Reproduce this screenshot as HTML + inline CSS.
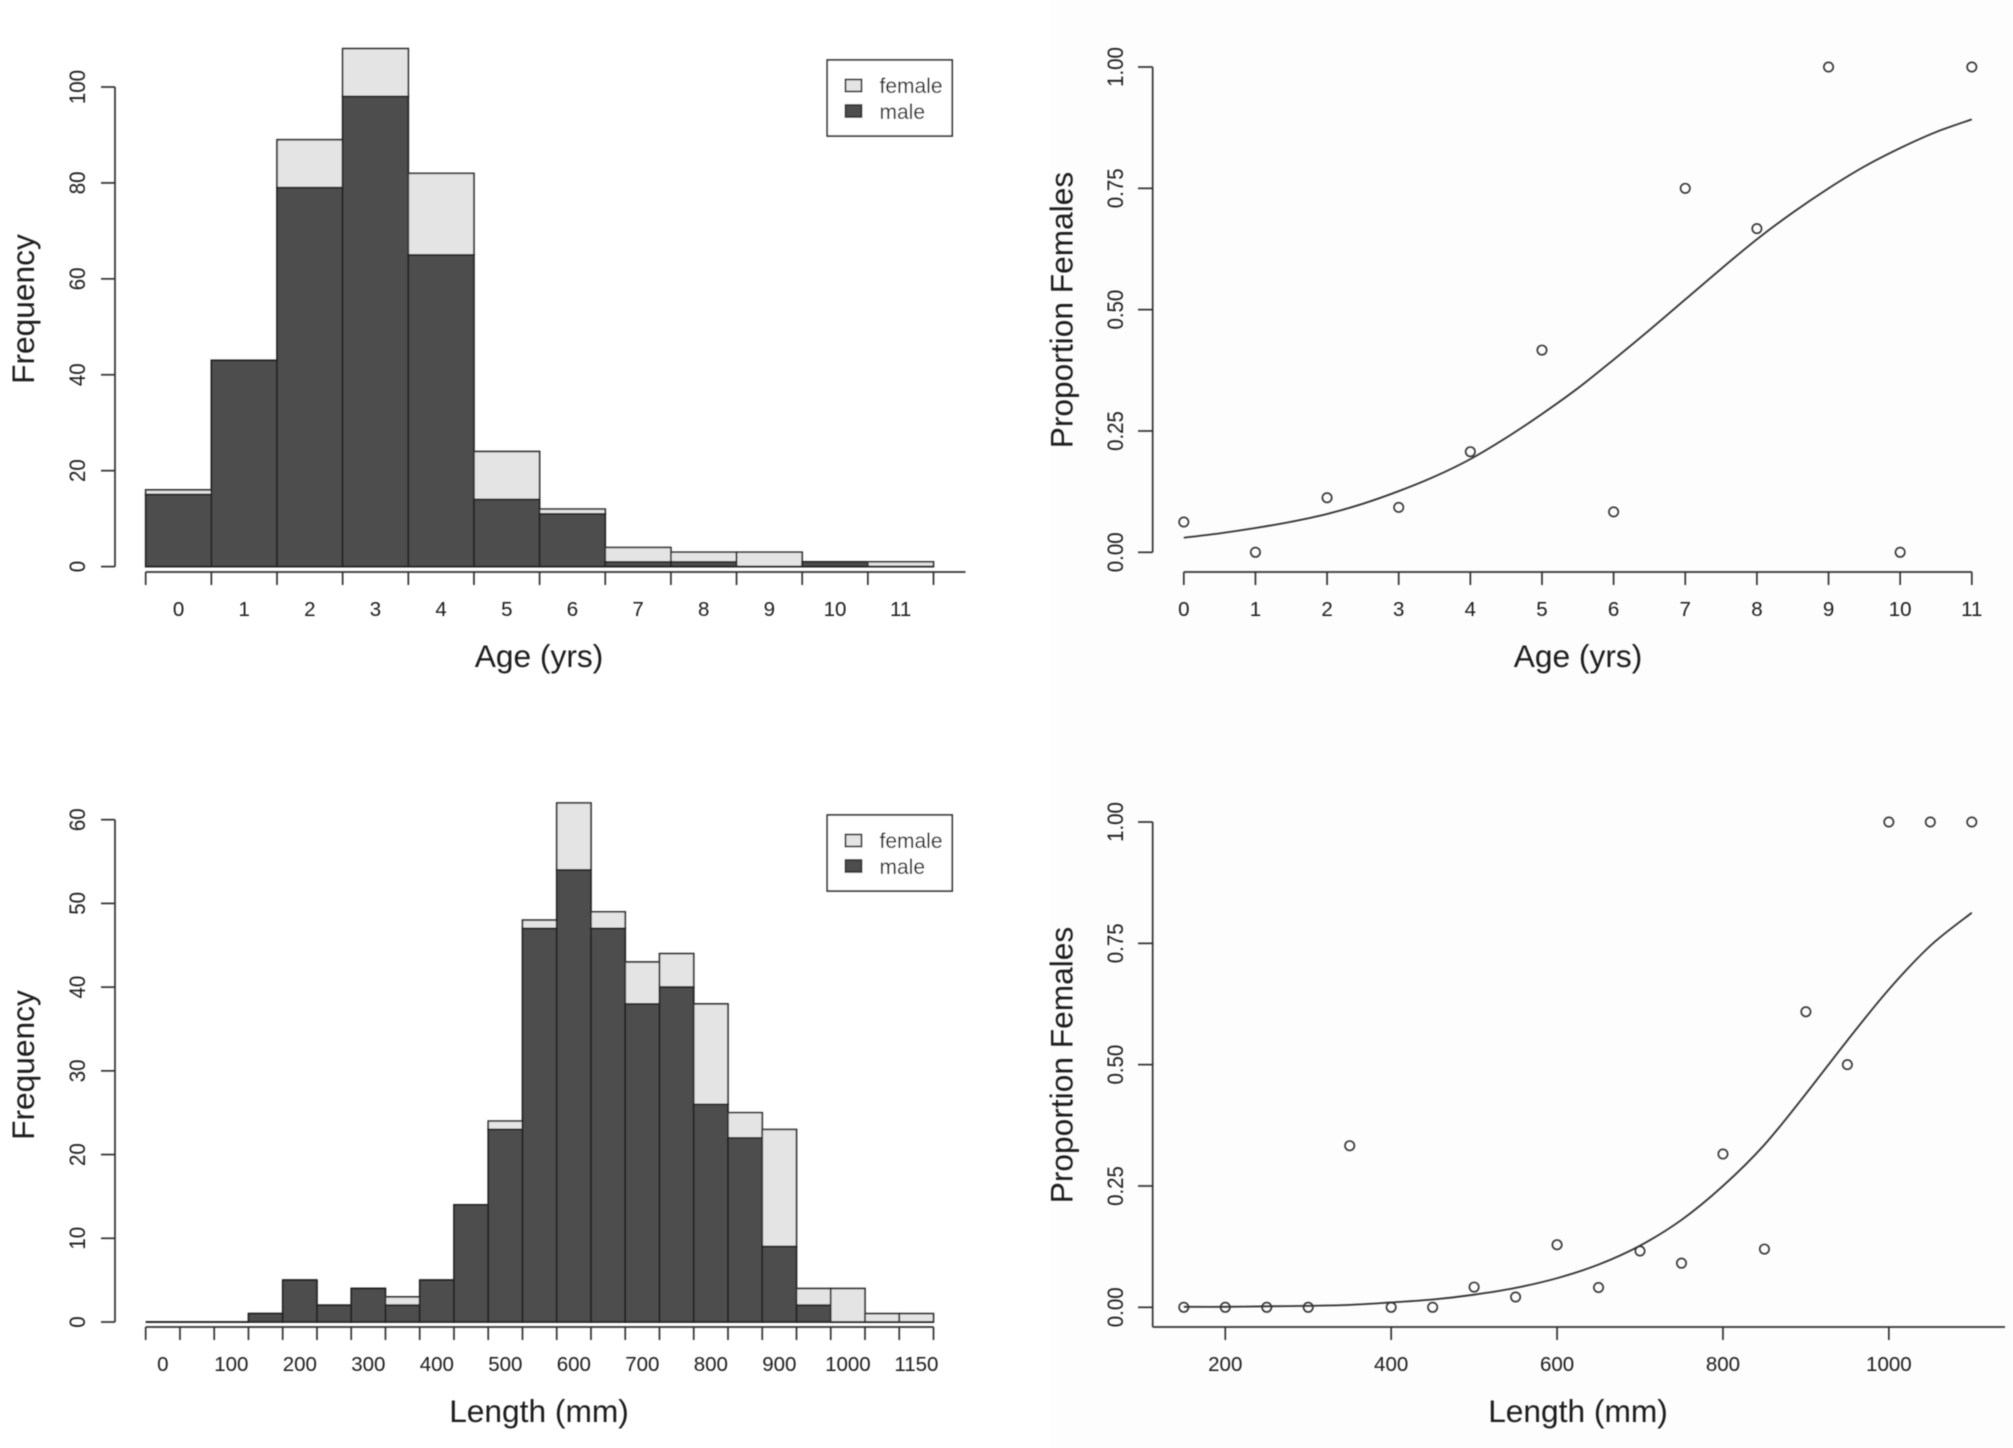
<!DOCTYPE html>
<html lang="en">
<head>
<meta charset="utf-8">
<title>Age and length frequency and proportion of females</title>
<style>
  html, body { margin: 0; padding: 0; background: #fff; }
  svg { display: block; font-family: "Liberation Sans", Arial, sans-serif; }
</style>
</head>
<body>
<svg id="figure" xmlns="http://www.w3.org/2000/svg" width="2013" height="1448" viewBox="0 0 2013 1448">
  <defs>
    <filter id="soft" x="0" y="0" width="2013" height="1448" filterUnits="userSpaceOnUse">
      <feGaussianBlur stdDeviation="0.55"/>
    </filter>
  </defs>
  <rect x="0" y="0" width="2013" height="1448" fill="#ffffff"/>
  <rect x="1050" y="0" width="963" height="1448" fill="#fdfdfd"/>
  <g id="plots" filter="url(#soft)"></g>
</svg>
<script>
// ---- Age frequency (top left)
const ageBinLabels = ["0","1","2","3","4","5","6","7","8","9","10","11"];
const ageMale   = [15,43,79,98,65,14,11,1,1,0,1,0];
const ageFemale = [1,0,10,10,17,10,1,3,2,3,0,1];
const ageFreqTicks = [0,20,40,60,80,100];

// ---- Length frequency (bottom left)
const lengthBinLabels = ["0","100","200","300","400","500","600","700","800","900","1000","1150"];
const lengthMale   = [0,0,0,1,5,2,4,2,5,14,23,47,54,47,38,40,26,22,9,2,0,0,0];
const lengthFemale = [0,0,0,0,0,0,0,1,0,0,1,1,8,2,5,4,12,3,14,2,4,1,1];
const lengthFreqTicks = [0,10,20,30,40,50,60];

// ---- Proportion females by age (top right)
const agePropX = [0,1,2,3,4,5,6,7,8,9,10,11];
const agePropY = [0.0625,0,0.1124,0.0926,0.2073,0.4167,0.0833,0.75,0.667,1,0,1];
const ageCurveX = [0,0.5,1,1.5,2,2.5,3,3.5,4,4.5,5,5.5,6,6.5,7,7.5,8,8.5,9,9.5,10,10.5,11];
const ageCurveY = [0.030,0.039,0.050,0.063,0.079,0.100,0.126,0.156,0.192,0.236,0.285,0.338,0.397,0.458,0.521,0.584,0.645,0.700,0.750,0.795,0.833,0.866,0.892];
const ageXTicks = [0,1,2,3,4,5,6,7,8,9,10,11];

// ---- Proportion females by length (bottom right)
const lengthPropX = [150,200,250,300,350,400,450,500,550,600,650,700,750,800,850,900,950,1000,1050,1100];
const lengthPropY = [0,0,0,0,0.333,0,0,0.0417,0.0213,0.129,0.0408,0.116,0.0909,0.3158,0.12,0.609,0.5,1,1,1];
const lengthCurveX = [150,200,250,300,350,400,450,500,550,600,650,700,750,800,850,900,950,1000,1050,1100];
const lengthCurveY = [0.001,0.001,0.002,0.003,0.005,0.010,0.016,0.026,0.040,0.060,0.088,0.127,0.180,0.250,0.335,0.440,0.550,0.655,0.745,0.813];
const lengthXTicks = [200,400,600,800,1000];

const propTicks = [0,0.25,0.5,0.75,1];

const SVG_NS = "http://www.w3.org/2000/svg";
const root = document.getElementById("plots");
const INK = "#303030";
const TEXT = "#1c1c1c";
const TITLE_SIZE = 31.7;

function linear(d0, d1, r0, r1) {
  return function (v) { return r0 + (v - d0) * (r1 - r0) / (d1 - d0); };
}
function make(tag, attrs, parent, text) {
  const node = document.createElementNS(SVG_NS, tag);
  for (const k in attrs) node.setAttribute(k, attrs[k]);
  if (text !== undefined) node.textContent = text;
  parent.appendChild(node);
  return node;
}
function line(x1, y1, x2, y2, parent) {
  return make("line", { x1: x1, y1: y1, x2: x2, y2: y2, stroke: INK, "stroke-width": 1.7 }, parent);
}
function hText(str, x, y, size, parent) {
  return make("text", { x: x, y: y, "font-size": size, fill: TEXT, "text-anchor": "middle" }, parent, str);
}
function vText(str, x, y, size, squeeze, parent) {
  return make("text", { transform: "translate(" + x + " " + y + ") rotate(-90) scale(" + squeeze + " 1)", "font-size": size, fill: TEXT, "text-anchor": "middle" }, parent, str);
}
function barPath(x0, x1, yTop, yBottom) {
  return "M" + x0 + " " + yBottom + "V" + yTop + "H" + x1 + "V" + yBottom + "Z";
}

function drawYAxis(g, ticks, fmt, y, axisX, tickX, labelX, axisBottom) {
  const axis = line(axisX, axisBottom, axisX, y(ticks[ticks.length - 1]), g);
  
  
  ticks.forEach(function (t) {
    const tick = line(tickX, y(t), axisX, y(t), g);
    
    
    const label = vText(fmt(t), labelX, y(t), 22, 0.93, g);
    
    
  });
}

function drawHistogram(cfg) {
  const g = make("g", {}, root);
  
  
  const n = cfg.male.length;
  const x = linear(0, n, 145.7, 933.5);
  const y = linear(0, cfg.unitValue, cfg.y0, cfg.yUnit);

  cfg.male.forEach(function (m, i) {
    const f = cfg.female[i];
    const femaleBar = make("path", { d: barPath(x(i), x(i + 1), y(m + f), y(m)), fill: "#e4e4e4", stroke: INK, "stroke-width": 1.7 }, g);
    
    
    const maleBar = make("path", { d: barPath(x(i), x(i + 1), y(m), y(0)), fill: "#4d4d4d", stroke: "#242424", "stroke-width": 1.7 }, g);
    
    
  });

  drawYAxis(g, cfg.yTicks, String, y, 115, 101, 85, y(cfg.yTicks[0]));

  const ax = line(x(0), cfg.axisY, cfg.axisEnd, cfg.axisY, g);
  
  
  for (let i = 0; i <= n; i++) {
    const tick = line(x(i), cfg.axisY, x(i), cfg.axisY + 13, g);
    
    
  }
  cfg.labels.forEach(function (str, i) {
    const label = hText(str, x(i * cfg.labelStep + 0.5), cfg.axisY + 44, 20.5, g);
    
    
  });

  const yTitle = vText("Frequency", 34, cfg.yTitleY, TITLE_SIZE, 1, g);
  
  
  const xTitle = hText(cfg.xTitle, 539, cfg.xTitleY, TITLE_SIZE, g);
  
  

  const lg = make("g", {}, g);
  
  
  const box = make("rect", { x: 827.2, y: cfg.legendY, width: 125, height: 76, fill: "#ffffff", stroke: INK, "stroke-width": 1.7 }, lg);
  
  
  const s1 = make("rect", { x: 845.5, y: cfg.legendY + 19.5, width: 16, height: 12, fill: "#e4e4e4", stroke: INK, "stroke-width": 1.7 }, lg);
  
  
  const s2 = make("rect", { x: 845.5, y: cfg.legendY + 45, width: 16, height: 12, fill: "#4d4d4d", stroke: INK, "stroke-width": 1.7 }, lg);
  
  
  const t1 = make("text", { x: 879.5, y: cfg.legendY + 33, "font-size": 21, fill: TEXT }, lg, "female");
  
  
  const t2 = make("text", { x: 879.5, y: cfg.legendY + 59, "font-size": 21, fill: TEXT }, lg, "male");
  
  
}

function smoothPath(px, py) {
  let d = "M" + px[0].toFixed(2) + " " + py[0].toFixed(2);
  for (let i = 0; i < px.length - 1; i++) {
    const a = Math.max(i - 1, 0), b = i + 1, c = Math.min(i + 2, px.length - 1);
    const c1x = px[i] + (px[b] - px[a]) / 6, c1y = py[i] + (py[b] - py[a]) / 6;
    const c2x = px[b] - (px[c] - px[i]) / 6, c2y = py[b] - (py[c] - py[i]) / 6;
    d += "C" + c1x.toFixed(2) + " " + c1y.toFixed(2) + " " + c2x.toFixed(2) + " " + c2y.toFixed(2) + " " + px[b].toFixed(2) + " " + py[b].toFixed(2);
  }
  return d;
}

function drawProportion(cfg) {
  const g = make("g", {}, root);
  
  
  const x = linear(cfg.xMin, cfg.xMax, 1183.8, 1971.8);
  const y = linear(0, 1, cfg.y0, cfg.y1);

  const curve = make("path", { d: smoothPath(cfg.curveX.map(x), cfg.curveY.map(y)), fill: "none", stroke: INK, "stroke-width": 1.8 }, g);
  
  

  cfg.pointX.forEach(function (v, i) {
    const pt = make("circle", { cx: x(v), cy: y(cfg.pointY[i]), r: 4.7, fill: "none", stroke: INK, "stroke-width": 1.6 }, g);
    
    
  });

  drawYAxis(g, propTicks, function (t) { return t.toFixed(2); }, y, 1152.7, 1138, 1123, cfg.frame ? cfg.axisY : y(0));

  const axStart = cfg.frame ? 1152.7 : x(cfg.xTicks[0]);
  const axEnd = cfg.frame ? 2005 : x(cfg.xTicks[cfg.xTicks.length - 1]);
  const ax = line(axStart, cfg.axisY, axEnd, cfg.axisY, g);
  
  
  cfg.xTicks.forEach(function (t) {
    const tick = line(x(t), cfg.axisY, x(t), cfg.axisY + 13, g);
    
    
    const label = hText(String(t), x(t), cfg.axisY + 44, 20.5, g);
    
    
  });

  const yTitle = vText("Proportion Females", 1072.5, cfg.yTitleY, TITLE_SIZE, 1, g);
  
  
  const xTitle = hText(cfg.xTitle, 1578, cfg.xTitleY, TITLE_SIZE, g);
  
  
}

drawHistogram({
  name: "age-frequency-panel", male: ageMale, female: ageFemale, labels: ageBinLabels, labelStep: 1,
  yTicks: ageFreqTicks, unitValue: 100, y0: 566.6, yUnit: 87, axisY: 572, axisEnd: 965.5,
  yTitleY: 309, xTitle: "Age (yrs)", xTitleY: 667, legendY: 60
});
drawHistogram({
  name: "length-frequency-panel", male: lengthMale, female: lengthFemale, labels: lengthBinLabels, labelStep: 2,
  yTicks: lengthFreqTicks, unitValue: 60, y0: 1322, yUnit: 819.7, axisY: 1327, axisEnd: 933.5,
  yTitleY: 1065, xTitle: "Length (mm)", xTitleY: 1422, legendY: 815
});
drawProportion({
  name: "age-proportion-panel", pointX: agePropX, pointY: agePropY, curveX: ageCurveX, curveY: ageCurveY,
  xMin: 0, xMax: 11, xTicks: ageXTicks, y0: 552.3, y1: 67, axisY: 572, frame: false,
  yTitleY: 310, xTitle: "Age (yrs)", xTitleY: 667
});
drawProportion({
  name: "length-proportion-panel", pointX: lengthPropX, pointY: lengthPropY, curveX: lengthCurveX, curveY: lengthCurveY,
  xMin: 150, xMax: 1100, xTicks: lengthXTicks, y0: 1307.3, y1: 822, axisY: 1327, frame: true,
  yTitleY: 1065, xTitle: "Length (mm)", xTitleY: 1422
});
</script>
</body>
</html>
